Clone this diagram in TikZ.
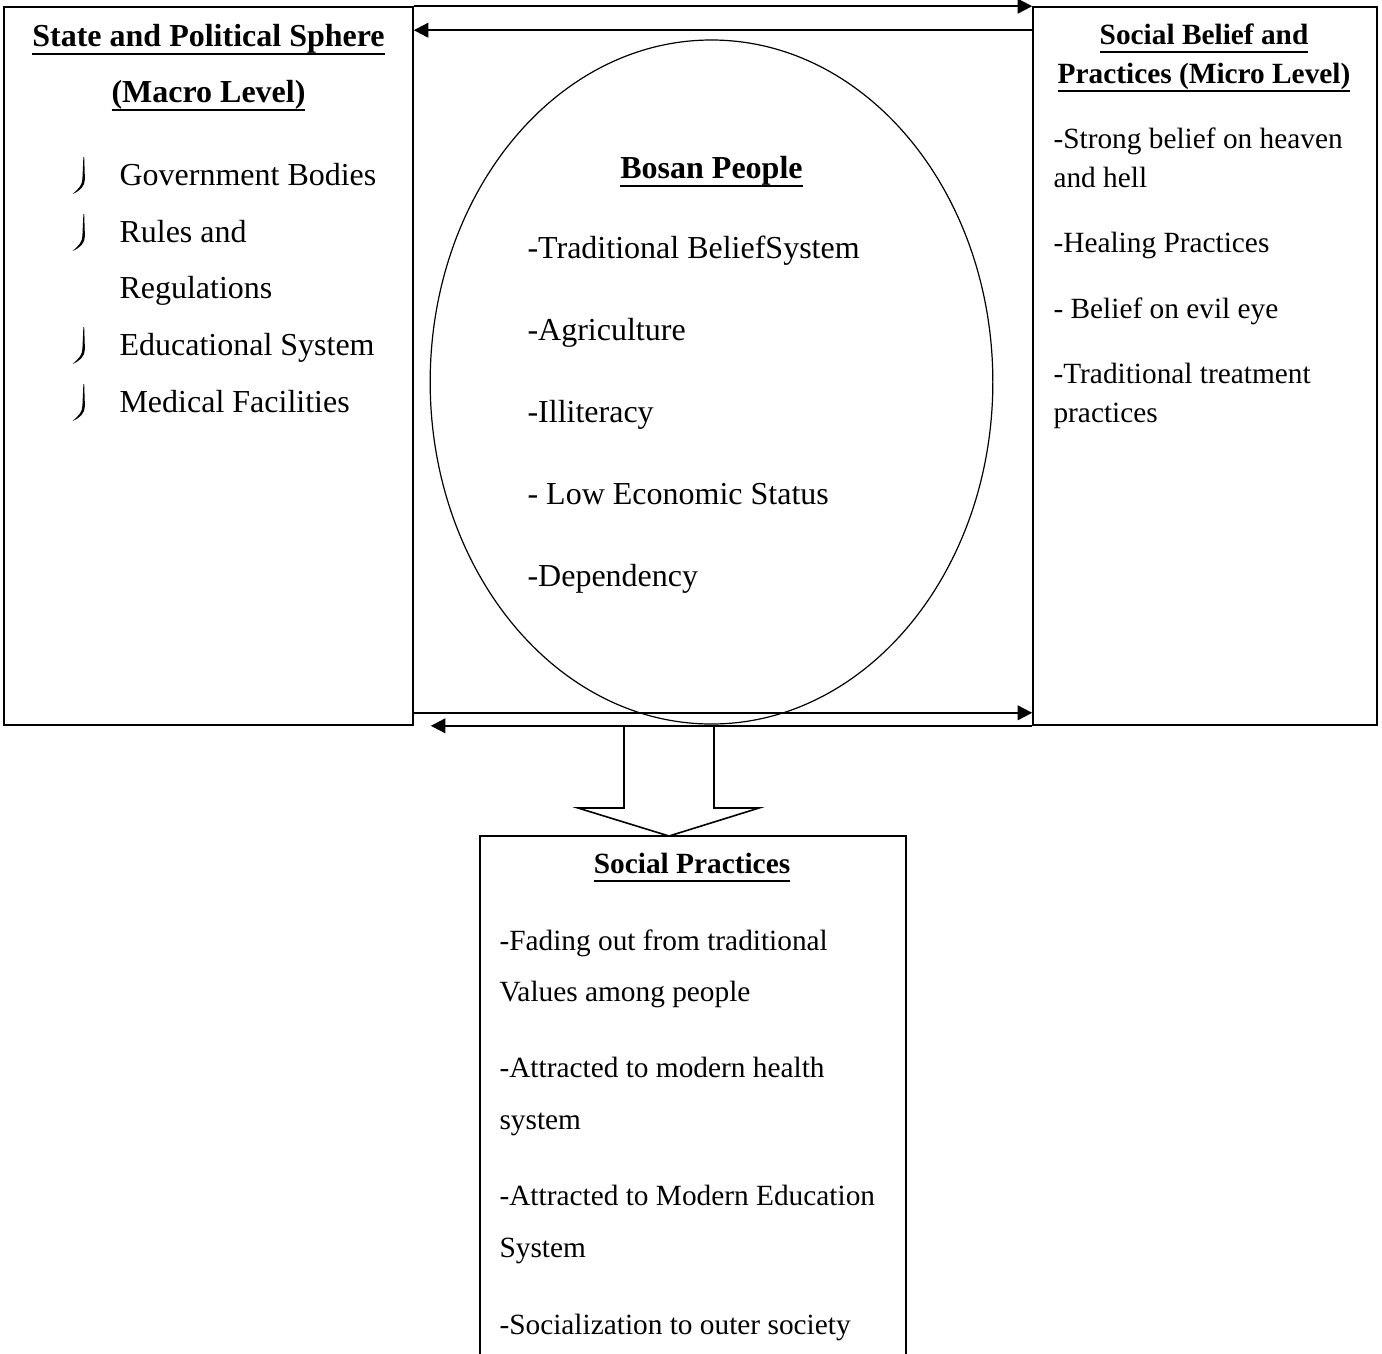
\documentclass[tikz,border=0pt]{standalone}
\usepackage{fontspec}
\setmainfont{Liberation Serif}
\usetikzlibrary{shapes.geometric,arrows.meta}

\newcommand{\ulhead}[1]{\setbox0=\hbox{\bfseries #1}\rlap{\copy0}\rule[-3.2pt]{\wd0}{0.6pt}}

\begin{document}
\begin{tikzpicture}[
    x=0.375pt, y=-0.375pt,
    box/.style={draw, line width=0.6pt, inner sep=0pt},
    oval/.style={ellipse, draw, line width=0.45pt, inner sep=0pt},
    link/.style={-{Triangle[length=5.5pt,width=5.5pt]}, line width=0.8pt},
    head/.style={anchor=base, inner sep=0pt, font=\fontsize{12}{14}\selectfont},
    item/.style={anchor=base west, inner sep=0pt, font=\fontsize{12}{14}\selectfont},
    small/.style={font=\fontsize{11}{13}\selectfont}
  ]

  \clip (0,0) rectangle (1382,1353);

  % Boxes
  \node[box, minimum width=153.375pt, minimum height=269.25pt] (state) at (208.5,366) {};
  \node[box, minimum width=129pt, minimum height=269.25pt] (belief) at (1205,366) {};
  \node[oval, minimum width=211pt, minimum height=256.5pt] (people) at (711.5,382) {};
  \node[box, minimum width=159.75pt, minimum height=198pt] (social) at (693,1100) {};

  % Arrows between the levels
  \draw[link] (state.north east) -- (belief.north west);
  \draw[link] ([yshift=-9pt]belief.north west) -- ([yshift=-9pt]state.north east);
  \draw[link] ([yshift=4.875pt]state.south east) -- ([yshift=4.875pt]belief.south west);
  \draw[link] (belief.south west) -- ([xshift=6.375pt]state.south east);

  % Block arrow down to social practices
  \coordinate (tip) at (669,836);
  \draw[line width=0.6pt, line join=miter] (624,725) -- (624,808) -- (578,808) -- (tip) -- (759,808) -- (714,808) -- (714,725);

  % State and political sphere
  \node[head] (statehead1) at (208.5,46) {\ulhead{State and Political Sphere}};
  \node[head] (statehead2) at (208.5,102) {\ulhead{(Macro Level)}};
  \foreach \txt/\y [count=\i] in {Government Bodies/185, Rules and/242, Regulations/298, Educational System/355, Medical Facilities/412}
    \node[item] (state\i) at (119,\y) {\txt};
  \foreach \b in {185,242,355,412}
    \fill (84.2,\b-28) -- (84.9,\b-6) .. controls (85,\b+1) and (80,\b+6) .. (72.5,\b+9)
      .. controls (78.5,\b+4) and (82.3,\b+0) .. (82.4,\b-6) -- (83.4,\b-28) -- cycle;

  % Bosan people
  \node[head] (peoplehead) at (711.5,178) {\ulhead{Bosan People}};
  \foreach \txt/\y [count=\i] in {-Traditional BeliefSystem/258, -Agriculture/340, -Illiteracy/422, - Low Economic Status/504, -Dependency/586}
    \node[item] (people\i) at (527,\y) {\txt};

  % Social belief and practices
  \node[head, small] (beliefhead1) at (1204,44) {\ulhead{Social Belief and}};
  \node[head, small] (beliefhead2) at (1204,83) {\ulhead{Practices (Micro Level)}};
  \foreach \txt/\y [count=\i] in {-Strong belief on heaven/148, and hell/187, -Healing Practices/252, - Belief on evil eye/318, -Traditional treatment/383, practices/422}
    \node[item, small] (belief\i) at (1053,\y) {\txt};

  % Social practices
  \node[head, small] (socialhead) at (692,873) {\ulhead{Social Practices}};
  \foreach \txt/\y [count=\i] in {-Fading out from traditional/950, Values among people/1001, -Attracted to modern health/1077, system/1129, -Attracted to Modern Education/1205, System/1257, -Socialization to outer society/1334}
    \node[item, small] (social\i) at (499,\y) {\txt};

\end{tikzpicture}
\end{document}
